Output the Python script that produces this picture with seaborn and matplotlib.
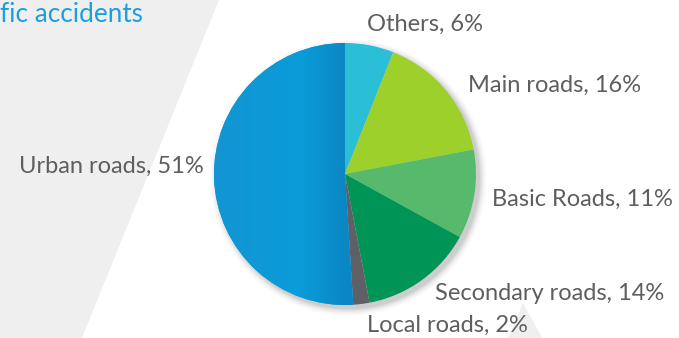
import numpy as np
import matplotlib
matplotlib.use("Agg")
import matplotlib.pyplot as plt
import seaborn as sns
from matplotlib.patches import Polygon
from matplotlib.colors import LinearSegmentedColormap

# Share of traffic accidents by road type
categories = ["Others", "Main roads", "Basic Roads", "Secondary roads", "Local roads", "Urban roads"]
shares = [6, 16, 11, 14, 2, 51]
colors = ["#2bbfd7", "#9dd02a", "#56b96b", "#009557", "#5e6065", "#0a9bd8"]
title_text = "fic accidents"

sns.set_theme(style="white")
plt.rcParams["font.family"] = ["Lato", "DejaVu Sans"]

W, H = 679, 338
fig = plt.figure(figsize=(W / 100, H / 100), dpi=100)
ax = fig.add_axes([0, 0, 1, 1])

# light grey backdrop shapes (pixel units, y measured from the bottom)
ax.add_patch(Polygon([(0, H), (219, H), (82, 0), (0, 0)], closed=True,
                     facecolor="#efefef", edgecolor="none", zorder=0))
ax.add_patch(Polygon([(523, H - 303), (542, 0), (508, 0)], closed=True,
                     facecolor="#efefef", edgecolor="none", zorder=0))

cx, cy, r = 345, H - 174, 131

# soft drop shadow behind the pie
yy, xx = np.mgrid[0:H, 0:W]
d = np.hypot(xx - (cx + 3), (H - yy) - (cy - 3)) - r
shadow = np.clip(1 - d / 9.0, 0, 1) ** 2 * 0.35
shadow[d < -2] = 0.35
rgba = np.zeros((H, W, 4))
rgba[..., :3] = 0.45
rgba[..., 3] = shadow
ax.imshow(rgba, extent=(0, W, 0, H), origin="upper", zorder=1, interpolation="bilinear")

wedges, _ = ax.pie(shares, colors=colors, startangle=90, counterclock=False,
                   center=(cx, cy), radius=r, frame=True,
                   wedgeprops=dict(linewidth=0, antialiased=True))
for w in wedges:
    w.set_zorder(2)
ax.set_xlim(0, W)
ax.set_ylim(0, H)
ax.set_aspect("equal")
ax.axis("off")

# horizontal shading on the large blue slice
blue_cmap = LinearSegmentedColormap.from_list(
    "blue_shade", [(0.0, "#1395d2"), (0.6, "#0a9cda"), (0.92, "#0b87c4"), (1.0, "#0b85c2")])
grad = np.linspace(0, 1, 256)[None, :]
im = ax.imshow(grad, cmap=blue_cmap, extent=(cx - r, cx + 12, cy - r, cy + r),
               aspect="auto", zorder=3, interpolation="bilinear")
im.set_clip_path(wedges[-1])

label_color = "#5e5e5e"
label_pos = [(425, 24, "center"), (468, 85, "left"), (492, 199, "left"),
             (435, 293, "left"), (367, 325, "left"), (204, 166, "right")]
for name, val, (x, y, ha) in zip(categories, shares, label_pos):
    ax.text(x, H - y, f"{name}, {val}%", ha=ha, va="center",
            fontsize=17, fontweight="normal", color=label_color, zorder=5)

ax.text(0, H - 15, title_text, ha="left", va="center", fontsize=18.8,
        fontweight="normal", color="#1ba0df", zorder=5)

fig.savefig("out.png", dpi=100)
